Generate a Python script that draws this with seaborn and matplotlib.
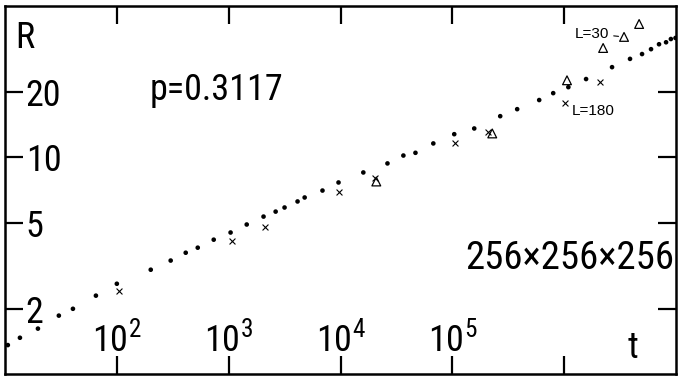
import numpy as np
import pandas as pd
import matplotlib
matplotlib.use("Agg")
import matplotlib.pyplot as plt
import seaborn as sns

# Simulated domain growth R(t), p=0.3117, lattice 256x256x256
t_dots = [10.6, 13.6, 19.7, 30.3, 40.5, 65, 100, 201, 303, 413, 529, 735, 1040,
          1450, 2050, 2630, 3160, 4130, 4780, 6900, 9600, 16000, 26300, 36500,
          46800, 67600, 104000, 157000, 268000, 380000, 598000, 798000, 1.09e6,
          1.57e6, 2.68e6, 3.88e6, 4.97e6, 5.98e6, 7.05e6, 8.15e6, 9.0e6, 9.9e6]
R_dots = [1.36, 1.47, 1.62, 1.86, 2.0, 2.30, 2.61, 3.03, 3.34, 3.63, 3.83, 4.17,
          4.50, 4.90, 5.33, 5.62, 5.87, 6.26, 6.53, 7.03, 7.66, 8.52, 9.38, 10.2,
          10.5, 11.6, 12.8, 13.6, 15.5, 16.7, 18.4, 19.8, 21.1, 23.0, 26.1, 28.5,
          30.0, 31.6, 33.3, 34.0, 35.2, 35.6]

# L=180 (crosses)
t_l180 = [104, 1064, 2095, 9790, 20500, 106000, 210000, 1.02e6, 2.10e6]
R_l180 = [2.42, 4.13, 4.79, 6.89, 8.0, 11.6, 13.05, 17.8, 22.2]

# L=30 (open triangles)
t_l30 = [20900, 227500, 1.06e6, 2.23e6, 3.43e6, 4.68e6]
R_l30 = [7.74, 12.9, 22.7, 32.0, 36.0, 41.3]

x_ticks = [1e2, 1e3, 1e4, 1e5, 1e6]
x_ticklabels = [r"$\mathregular{10^{2}}$", r"$\mathregular{10^{3}}$",
                r"$\mathregular{10^{4}}$", r"$\mathregular{10^{5}}$", ""]
y_ticks = [2, 5, 10, 20]
y_ticklabels = ["2", "5", "10", "20"]

sns.set_style("white")
plt.rcParams["font.family"] = ["Roboto Condensed", "DejaVu Sans"]
plt.rcParams["text.color"] = "black"
plt.rcParams["mathtext.fontset"] = "custom"
plt.rcParams["mathtext.rm"] = "Roboto Condensed"
plt.rcParams["mathtext.it"] = "Roboto Condensed"

small_font = ["Liberation Sans", "DejaVu Sans"]

df_dots = pd.DataFrame({"t": t_dots, "R": R_dots})
df_180 = pd.DataFrame({"t": t_l180, "R": R_l180})
df_30 = pd.DataFrame({"t": t_l30, "R": R_l30})

fig = plt.figure(figsize=(6.79, 3.78), dpi=100)
ax = fig.add_axes([5 / 679, 4 / 378, 671 / 679, 368 / 378])

sns.scatterplot(data=df_dots, x="t", y="R", ax=ax, color="black", s=11,
                edgecolor="none", legend=False)
sns.scatterplot(data=df_180, x="t", y="R", ax=ax, color="black", marker="x",
                s=18, linewidth=0.8, legend=False)
sns.scatterplot(data=df_30, x="t", y="R", ax=ax, marker="^", s=40,
                facecolors="none", edgecolor="black", linewidth=0.9, legend=False)

ax.set_xscale("log")
ax.set_yscale("log")
ax.set_xlim(10, 1e7)
ax.set_ylim(1, 50)
ax.set_xlabel("")
ax.set_ylabel("")

ax.minorticks_off()
ax.set_xticks(x_ticks)
ax.set_xticklabels(x_ticklabels)
ax.set_yticks(y_ticks)
ax.set_yticklabels(y_ticklabels)
ax.tick_params(axis="both", which="major", direction="in", length=13, width=1.6,
               top=True, right=True, bottom=True, left=True, labelsize=26,
               colors="black")
ax.tick_params(axis="y", pad=-15)
ax.tick_params(axis="x", pad=-11)
for lab in ax.get_yticklabels():
    lab.set_horizontalalignment("left")
for lab in ax.get_xticklabels():
    lab.set_verticalalignment("bottom")

for sp in ax.spines.values():
    sp.set_visible(True)
    sp.set_color("black")
    sp.set_linewidth(1.8)

# labels drawn inside the frame
ax.text(0.015, 0.886, "R", transform=ax.transAxes, fontsize=26)
ax.text(0.936, 0.0435, "t", transform=ax.transAxes, fontsize=26, ha="center")
ax.text(0.216, 0.745, "p=0.3117", transform=ax.transAxes, fontsize=26)
ax.text(0.998, 0.285, "256×256×256", transform=ax.transAxes, fontsize=28, ha="right")

ax.annotate("L=30", xy=(t_l30[4], R_l30[4]), xytext=(0.849, 0.913),
            textcoords="axes fraction", fontsize=11, family=small_font,
            arrowprops=dict(arrowstyle="-", lw=0.8, color="black",
                            shrinkA=1, shrinkB=4, relpos=(1.0, 0.4)))
ax.text(0.845, 0.704, "L=180", transform=ax.transAxes, fontsize=11, family=small_font)

fig.savefig("out.png", dpi=100)
